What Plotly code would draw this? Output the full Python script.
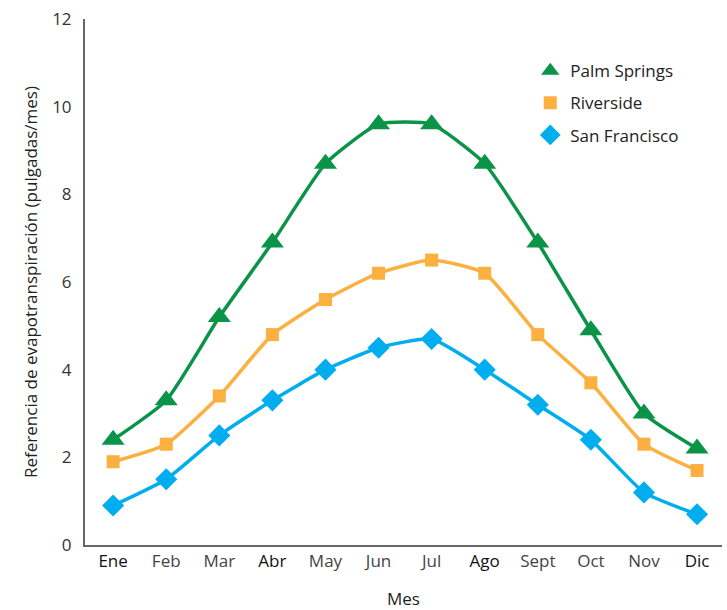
import plotly.graph_objects as go

months = ["Ene", "Feb", "Mar", "Abr", "May", "Jun", "Jul", "Ago", "Sept", "Oct", "Nov", "Dic"]
dark_months = {"Ene", "Abr", "Ago", "Dic"}
palm_springs = [2.4, 3.3, 5.2, 6.9, 8.7, 9.6, 9.6, 8.7, 6.9, 4.9, 3.0, 2.2]
riverside = [1.9, 2.3, 3.4, 4.8, 5.6, 6.2, 6.5, 6.2, 4.8, 3.7, 2.3, 1.7]
san_francisco = [0.9, 1.5, 2.5, 3.3, 4.0, 4.5, 4.7, 4.0, 3.2, 2.4, 1.2, 0.7]
y_ticks = [0, 2, 4, 6, 8, 10, 12]

series = [
    ("Palm Springs", palm_springs, "#0A9447", "triangle-up", 20),
    ("Riverside", riverside, "#FBB040", "square", 13),
    ("San Francisco", san_francisco, "#00AEEF", "diamond", 17),
]

fig = go.Figure()
xs = list(range(len(months)))
for name, vals, color, sym, size in series:
    fig.add_trace(go.Scatter(
        x=xs, y=vals, mode="lines+markers", name=name, showlegend=False,
        line=dict(color=color, width=3.5, shape="spline", smoothing=0.5),
        marker=dict(symbol=sym, size=size, color=color),
        cliponaxis=False,
    ))
for name, vals, color, sym, size in series:
    fig.add_trace(go.Scatter(
        x=[None], y=[None], mode="markers", name=name, legendgroup=name,
        marker=dict(symbol=sym, size=size, color=color),
    ))

ticktext = [
    f"<span style='color:#111'>{m}</span>" if m in dark_months else f"<span style='color:#444'>{m}</span>"
    for m in months
]

fig.update_layout(
    width=727, height=610,
    margin=dict(l=85, r=5, t=19, b=65),
    plot_bgcolor="white", paper_bgcolor="white",
    font=dict(family="Open Sans, Noto Sans, sans-serif", size=17, color="#222"),
    showlegend=True,
    legend=dict(x=0.699, y=0.935, xanchor="left", yanchor="top",
                font=dict(size=17, color="#222"), bgcolor="rgba(0,0,0,0)",
                tracegroupgap=7, traceorder="grouped", itemsizing="trace"),
    xaxis=dict(
        tickmode="array", tickvals=xs, ticktext=ticktext,
        range=[-0.53, 11.47], showgrid=False, zeroline=False,
        showline=True, linecolor="#666", linewidth=2, ticks="",
        tickfont=dict(size=17), automargin=False,
        title=dict(text="Mes", font=dict(size=17, color="#222"), standoff=27),
    ),
    yaxis=dict(
        tickvals=y_ticks, range=[0, 12], showgrid=False, zeroline=False,
        showline=True, linecolor="#666", linewidth=2, ticks="",
        ticklabelstandoff=8, tickfont=dict(size=17, color="#333"),
        automargin=False,
        title=dict(text="Referencia de evapotranspiración (pulgadas/mes)",
                   font=dict(size=17, color="#222"), standoff=10),
    ),
)

fig.write_html("out.html", config={"displayModeBar": False},
               post_script="document.body.style.margin='0';document.body.style.padding='0';")
